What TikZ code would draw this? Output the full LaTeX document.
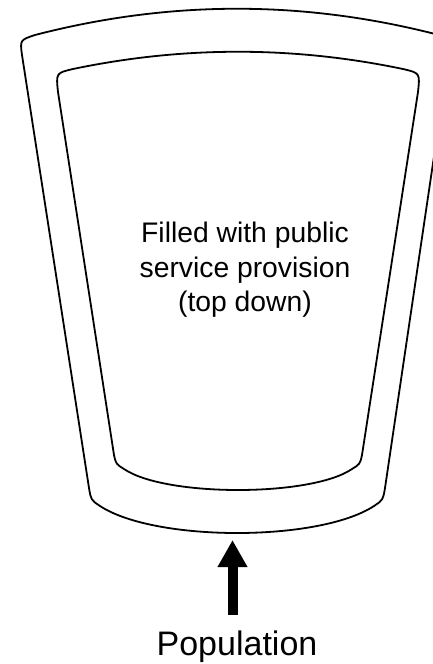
\documentclass[tikz,border=0pt]{standalone}
\usepackage{fontspec}
\setmainfont{Liberation Sans}
\usetikzlibrary{arrows.meta}
\tikzset{
  cupline/.style={line width=1.8pt, line join=round, black},
  filltext/.style={anchor=base, inner sep=0pt, font=\fontsize{28.3}{34.5}\selectfont},
  poptext/.style={anchor=base, inner sep=0pt, font=\fontsize{34}{40}\selectfont},
  bigarrow/.style={line width=10pt, line cap=butt, -{Triangle[width=28pt,length=27pt]}}
}
\begin{document}
\begin{tikzpicture}[x=1pt,y=-1pt]
\useasboundingbox (0,0) rectangle (433,664);
\clip (0,0) rectangle (433,664);
% outer cup
\draw[cupline] (89,488) -- (22,55) .. controls (20,40) .. (35,35)
  .. controls (170,0) and (304,0) .. (439,35)
  .. controls (451,40) .. (449,55) -- (385,488)
  .. controls (383,500) .. (374,506)
  .. controls (319,542) and (155,542) .. (100,506)
  .. controls (91,500) .. cycle;
% inner cup
\draw[cupline] (114,455) -- (58,92) .. controls (56,73) .. (73,69)
  .. controls (183,46) and (293,46) .. (403,69)
  .. controls (420,73) .. (418,92) -- (362,455)
  .. controls (360,464) .. (352,469)
  .. controls (311,497) and (165,497) .. (124,469)
  .. controls (116,464) .. cycle;
% text
\node[filltext] (fill1) at (245,242) {Filled with public};
\node[filltext] (fill2) at (245,277) {service provision};
\node[filltext] (fill3) at (245,311) {(top down)};
\node[poptext] (pop) at (237,655) {Population};
% arrow
\coordinate (arrS) at (232.5,615);
\coordinate (arrE) at (232.5,540);
\draw[bigarrow] (arrS) -- (arrE);
\end{tikzpicture}
\end{document}
